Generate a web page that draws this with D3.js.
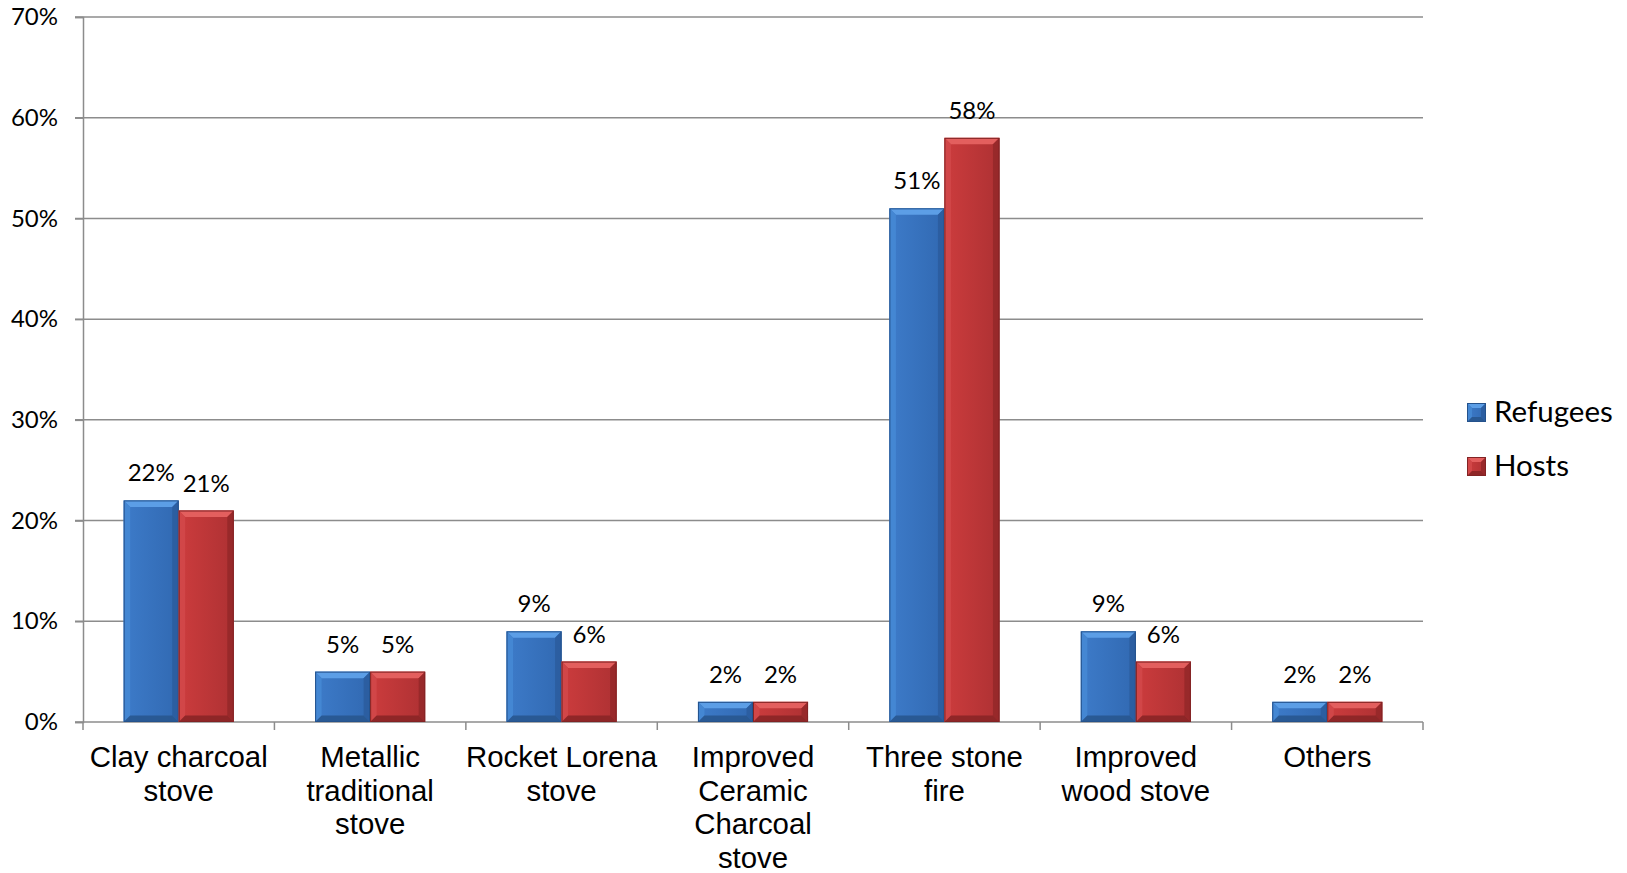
<!DOCTYPE html>
<html>
<head>
<meta charset="utf-8">
<script src="https://cdn.jsdelivr.net/npm/d3@7"></script>
<style>
  html, body { margin: 0; padding: 0; background: #fff; }
  svg { display: block; }
</style>
</head>
<body>
<svg id="chart" width="1627" height="873"></svg>
<script>
// Stove types used by households
const categories = [
  ["Clay charcoal", "stove"],
  ["Metallic", "traditional", "stove"],
  ["Rocket Lorena", "stove"],
  ["Improved", "Ceramic", "Charcoal", "stove"],
  ["Three stone", "fire"],
  ["Improved", "wood stove"],
  ["Others"]
];
const seriesNames = ["Refugees", "Hosts"];
const refugees = [22, 5, 9, 2, 51, 9, 2];
const hosts = [21, 5, 6, 2, 58, 6, 2];
const yTicks = [0, 10, 20, 30, 40, 50, 60, 70];

const palette = {
  Refugees: { body: "#3d7bc9", bodyDark: "#3169b2", top: "#5c9ee6", left: "#4588d4", right: "#2b5d9f", bottom: "#28568f", edge: "#24528c" },
  Hosts:    { body: "#cc3c3d", bodyDark: "#ae3133", top: "#e35f5e", left: "#d24849", right: "#962829", bottom: "#8a2526", edge: "#822324" }
};

const svg = d3.select("#chart");
const margin = { left: 83, right: 1423, top: 17, bottom: 722 };

const x0 = d3.scaleBand()
  .domain(d3.range(categories.length))
  .range([margin.left, margin.right])
  .paddingInner(0.425)
  .paddingOuter(0.2125);
const x1 = d3.scaleBand()
  .domain(seriesNames)
  .range([0, x0.bandwidth()]);
const y = d3.scaleLinear().domain([0, 70]).range([margin.bottom, margin.top]);

// gradients for bar bodies
const defs = svg.append("defs");
seriesNames.forEach(name => {
  const g = defs.append("linearGradient").attr("id", "grad-" + name)
    .attr("x1", 0).attr("x2", 1).attr("y1", 0).attr("y2", 0);
  g.append("stop").attr("offset", "0%").attr("stop-color", palette[name].body);
  g.append("stop").attr("offset", "100%").attr("stop-color", palette[name].bodyDark);
});

// gridlines
const step = x0.step();
svg.append("g").selectAll("line").data(yTicks.filter(t => t > 0)).join("line")
  .attr("x1", margin.left - 8).attr("x2", margin.right)
  .attr("y1", d => y(d)).attr("y2", d => y(d))
  .attr("stroke", "#8c8c8c").attr("stroke-width", 1.5);

// y axis
const yAxis = svg.append("g").attr("transform", `translate(${margin.left},0)`)
  .call(d3.axisLeft(y).tickValues(yTicks).tickSize(8).tickPadding(17).tickFormat(d => d + "%"));
yAxis.select(".domain").attr("stroke", "#8c8c8c").attr("stroke-width", 1.5);
yAxis.selectAll(".tick line").attr("stroke", "#8c8c8c").attr("stroke-width", 1.5);
yAxis.selectAll(".tick text")
  .attr("font-family", "Lato, sans-serif").attr("font-size", 24).attr("fill", "#000");

// x axis baseline with category boundary ticks
svg.append("line")
  .attr("x1", margin.left - 8).attr("x2", margin.right)
  .attr("y1", y(0)).attr("y2", y(0))
  .attr("stroke", "#8c8c8c").attr("stroke-width", 1.5);
const boundaries = d3.range(categories.length + 1).map(i => margin.left + i * step);
svg.append("g").selectAll("line").data(boundaries).join("line")
  .attr("x1", d => d).attr("x2", d => d)
  .attr("y1", y(0)).attr("y2", y(0) + 8)
  .attr("stroke", "#8c8c8c").attr("stroke-width", 1.5);

// category labels
const catG = svg.append("g");
categories.forEach((lines, i) => {
  const t = catG.append("text")
    .attr("x", x0(i) + x0.bandwidth() / 2)
    .attr("y", 767)
    .attr("text-anchor", "middle")
    .attr("font-family", "'Liberation Sans', Arial, sans-serif")
    .attr("font-size", 29.4)
    .attr("fill", "#000");
  lines.forEach((ln, j) => {
    t.append("tspan").attr("x", x0(i) + x0.bandwidth() / 2)
      .attr("dy", j === 0 ? 0 : 33.5).text(ln);
  });
});

// beveled bar drawing
function bevelBar(g, x, yTop, w, h, name, b) {
  const c = palette[name];
  const bb = Math.min(b, h / 2);
  const yb = yTop + h;
  g.append("rect").attr("x", x).attr("y", yTop).attr("width", w).attr("height", h)
    .attr("fill", `url(#grad-${name})`);
  g.append("polygon").attr("points", [[x, yTop], [x + w, yTop], [x + w - bb, yTop + bb], [x + bb, yTop + bb]].join(" "))
    .attr("fill", c.top);
  g.append("polygon").attr("points", [[x, yTop], [x + bb, yTop + bb], [x + bb, yb - bb], [x, yb]].join(" "))
    .attr("fill", c.left).attr("opacity", 0.9);
  g.append("polygon").attr("points", [[x + w, yTop], [x + w, yb], [x + w - bb, yb - bb], [x + w - bb, yTop + bb]].join(" "))
    .attr("fill", c.right).attr("opacity", 0.9);
  g.append("polygon").attr("points", [[x, yb], [x + bb, yb - bb], [x + w - bb, yb - bb], [x + w, yb]].join(" "))
    .attr("fill", c.bottom).attr("opacity", 0.9);
  g.append("rect").attr("x", x + 0.5).attr("y", yTop + 0.5).attr("width", w - 1).attr("height", h - 1)
    .attr("fill", "none").attr("stroke", c.edge).attr("stroke-width", 1);
}

const rows = categories.map((c, i) => ({ i, Refugees: refugees[i], Hosts: hosts[i] }));
const barsG = svg.append("g");
rows.forEach(r => {
  seriesNames.forEach(name => {
    const v = r[name];
    const bx = x0(r.i) + x1(name);
    const by = y(v);
    bevelBar(barsG, bx, by, x1.bandwidth(), y(0) - by, name, 6.5);
    barsG.append("text")
      .attr("x", bx + x1.bandwidth() / 2)
      .attr("y", by - 19)
      .attr("text-anchor", "middle")
      .attr("font-family", "Lato, sans-serif")
      .attr("font-size", 24)
      .attr("fill", "#000")
      .text(v + "%");
  });
});

// legend
const legend = svg.append("g");
seriesNames.forEach((name, k) => {
  const ly = 403 + k * 54;
  bevelBar(legend, 1467, ly, 19, 19, name, 5);
  legend.append("text")
    .attr("x", 1494).attr("y", ly + 19)
    .attr("font-family", "Lato, sans-serif")
    .attr("font-size", 29.5)
    .attr("fill", "#000")
    .text(name);
});
</script>
</body>
</html>
